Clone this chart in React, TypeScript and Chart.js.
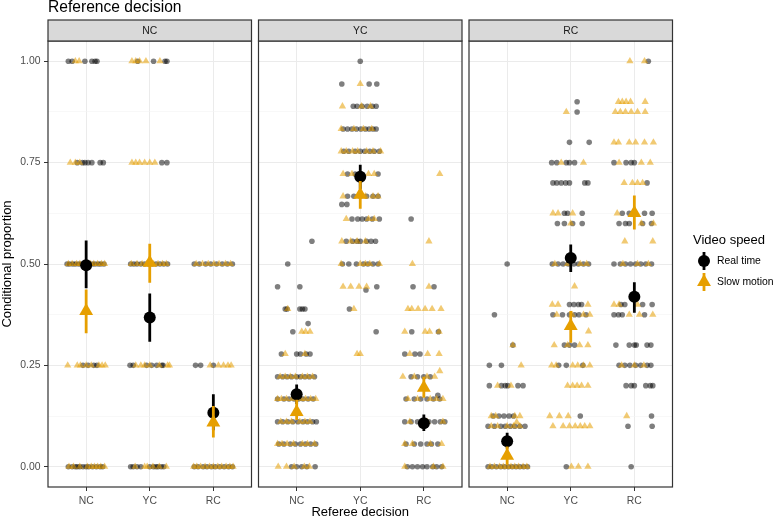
import React, { useEffect, useRef } from 'react';
import { Chart, registerables } from 'chart.js';

Chart.register(...registerables);

// ---------- data ----------
const categories = ['NC', 'YC', 'RC'];
const facetLabels = ['NC', 'YC', 'RC'];
const yMajorTicks = [0, 0.25, 0.5, 0.75, 1];
const yMinorTicks = [0.125, 0.375, 0.625, 0.875];
const seriesLabels = ['Real time', 'Slow motion'];

// jitter rows: [category position (1=NC, 2=YC, 3=RC), proportion, ...horizontal jitter offsets]
const ncFacetReal = [
  [1, 1.0, -0.28, -0.22, -0.02, 0.09, 0.14, 0.17],
  [1, 0.75, -0.14, -0.06, -0.02, 0.03, 0.09, 0.22, 0.27],
  [1, 0.5, -0.3, -0.26, -0.21, -0.17, -0.12, -0.08, -0.03, 0.01, 0.05, 0.1, 0.14, 0.19, 0.23, 0.28],
  [1, 0.25, -0.05, 0.03, 0.12, 0.17],
  [1, 0.0, -0.28, -0.22, -0.17, -0.14, -0.1, -0.05, 0.0, 0.04, 0.1, 0.16, 0.22, 0.26],
  [2, 1.0, -0.19, 0.06, 0.24, 0.27],
  [2, 0.75, 0.19, 0.27],
  [2, 0.5, -0.3, -0.25, -0.2, -0.14, -0.08, -0.02, 0.04, 0.1, 0.16, 0.22, 0.28],
  [2, 0.25, -0.31, -0.26, -0.05, 0.03, 0.11, 0.19, 0.21],
  [2, 0.0, -0.3, -0.26, -0.2, -0.14, 0.0, 0.06, 0.1, 0.13, 0.18, 0.22],
  [3, 0.5, -0.3, -0.22, -0.12, -0.04, 0.05, 0.14, 0.22, 0.3],
  [3, 0.25, -0.28, -0.2, 0.0],
  [3, 0.0, -0.3, -0.24, -0.16, -0.1, -0.03, 0.03, 0.1, 0.17, 0.24, 0.3],
];
const ncFacetSlow = [
  [1, 1.0, -0.17, -0.11],
  [1, 0.75, -0.25, -0.17, -0.1],
  [1, 0.5, -0.28, -0.22, -0.15, -0.1, -0.04, 0.02, 0.07, 0.12, 0.18, 0.24, 0.29],
  [1, 0.25, -0.29, -0.14, -0.09, 0.0, 0.08, 0.2, 0.25, 0.3],
  [1, 0.0, -0.27, -0.2, -0.1, 0.02, 0.08, 0.13, 0.18, 0.23, 0.29],
  [2, 1.0, -0.28, -0.22, -0.16, -0.06, 0.16],
  [2, 0.75, -0.28, -0.22, -0.16, -0.08, 0.0, 0.08],
  [2, 0.5, -0.29, -0.2, -0.12, -0.05, 0.01, 0.06, 0.13, 0.2, 0.26],
  [2, 0.25, -0.22, -0.14, -0.08, 0.0, 0.15, 0.28, 0.31],
  [2, 0.0, -0.23, -0.08, -0.04, 0.05, 0.15, 0.26],
  [3, 0.5, -0.27, -0.17, -0.08, 0.01, 0.09, 0.19, 0.27],
  [3, 0.25, -0.05, 0.08, 0.16, 0.23, 0.28],
  [3, 0.0, -0.31, -0.26, -0.2, -0.13, -0.06, 0.0, 0.07, 0.13, 0.2, 0.26, 0.31],
];

const ycFacetReal = [
  [1, 0.556, 0.24],
  [1, 0.5, -0.14],
  [1, 0.444, -0.3, 0.05],
  [1, 0.389, -0.18, -0.15, 0.05, 0.09, 0.13],
  [1, 0.353, 0.18],
  [1, 0.333, -0.06],
  [1, 0.278, -0.24, 0.0, 0.06, 0.15, 0.21],
  [1, 0.222, -0.3, -0.22, -0.15, -0.08, 0.0, 0.06, 0.13, 0.2, 0.28],
  [1, 0.167, -0.3, -0.2, -0.12, -0.04, 0.03, 0.1, 0.18, 0.26],
  [1, 0.111, -0.3, -0.22, -0.14, -0.06, 0.02, 0.1, 0.17, 0.25, 0.31],
  [1, 0.056, -0.28, -0.2, -0.1, -0.02, 0.06, 0.14, 0.22, 0.3],
  [1, 0.0, -0.08, 0.0, 0.08, 0.16, 0.29],
  [2, 1.0, 0.0],
  [2, 0.944, -0.29, 0.14, 0.26],
  [2, 0.889, -0.11, -0.05, 0.03, 0.11, 0.19, 0.25],
  [2, 0.833, -0.27, -0.2, -0.13, -0.06, 0.01, 0.08, 0.14, 0.2, 0.25],
  [2, 0.778, -0.26, -0.18, -0.08, 0.0, 0.07, 0.15, 0.22, 0.3],
  [2, 0.722, -0.2, -0.08, 0.0, 0.28],
  [2, 0.667, -0.2, -0.1, 0.0, 0.1, 0.2, 0.28],
  [2, 0.647, -0.29, -0.21],
  [2, 0.611, -0.13, -0.04, 0.03, 0.1, 0.19, 0.3],
  [2, 0.556, -0.22, -0.12, -0.05, 0.0, 0.1, 0.17, 0.24],
  [2, 0.5, -0.28, -0.18, -0.06, 0.05, 0.12, 0.2, 0.28],
  [2, 0.436, 0.09],
  [2, 0.444, 0.26],
  [2, 0.389, -0.17],
  [2, 0.333, 0.25],
  [3, 0.611, -0.2],
  [3, 0.444, -0.17, 0.16],
  [3, 0.333, -0.19, 0.23],
  [3, 0.278, -0.3, -0.14, -0.06],
  [3, 0.222, -0.2, -0.1, 0.0, 0.1],
  [3, 0.176, 0.22],
  [3, 0.167, -0.28, -0.15, -0.05, 0.05, 0.15, 0.25],
  [3, 0.111, -0.3, -0.2, -0.1, 0.0, 0.08, 0.17, 0.26, 0.33],
  [3, 0.056, -0.28, -0.15, -0.05, 0.05, 0.12, 0.22],
  [3, 0.0, -0.26, -0.18, -0.1, -0.02, 0.05, 0.14, 0.2, 0.28],
];
const ycFacetSlow = [
  [1, 0.389, -0.14],
  [1, 0.333, 0.08, 0.14, 0.21],
  [1, 0.278, -0.18, 0.13],
  [1, 0.222, -0.26, -0.18, -0.1, -0.02, 0.09, 0.17, 0.25],
  [1, 0.167, -0.3, -0.24, -0.16, -0.07, 0.07, 0.14, 0.22, 0.3],
  [1, 0.111, -0.25, -0.16, -0.08, 0.05, 0.13, 0.21],
  [1, 0.056, -0.3, -0.23, -0.15, -0.05, 0.09, 0.17, 0.28],
  [1, 0.0, -0.29, -0.16, -0.04, 0.12, 0.2],
  [2, 0.944, 0.0],
  [2, 0.889, -0.28, 0.02, 0.16],
  [2, 0.833, -0.3, -0.1, 0.05, 0.18],
  [2, 0.778, -0.3, -0.22, -0.12, -0.04, 0.1, 0.2, 0.32],
  [2, 0.722, -0.27, -0.13, 0.13, 0.22],
  [2, 0.667, -0.27, 0.08, 0.2, 0.28],
  [2, 0.611, -0.22, 0.13, 0.22],
  [2, 0.556, -0.29, -0.15, -0.05, 0.08],
  [2, 0.5, -0.3, 0.0, 0.08, 0.15, 0.3],
  [2, 0.444, -0.27, -0.15, -0.02, 0.1],
  [2, 0.389, -0.1],
  [2, 0.278, -0.05, 0.0],
  [3, 0.722, 0.25],
  [3, 0.556, 0.08],
  [3, 0.5, -0.18],
  [3, 0.444, 0.08],
  [3, 0.389, -0.25, -0.19, -0.09, 0.02, 0.13, 0.27],
  [3, 0.333, -0.3, 0.02, 0.09, 0.24],
  [3, 0.278, -0.22, 0.06, 0.24],
  [3, 0.236, 0.25],
  [3, 0.222, -0.33, -0.15, 0.05, 0.17],
  [3, 0.167, -0.25, -0.1, 0.1, 0.2, 0.3],
  [3, 0.111, -0.22, 0.05, 0.3],
  [3, 0.056, -0.3, -0.18, 0.1, 0.28],
  [3, 0.0, -0.3, 0.15, 0.3],
];

const rcFacetReal = [
  [1, 0.5, 0.0],
  [1, 0.375, -0.2],
  [1, 0.3, 0.09],
  [1, 0.25, -0.28, -0.09],
  [1, 0.2, -0.28, -0.09, -0.03, 0.01, 0.17, 0.25],
  [1, 0.125, -0.22, -0.13, -0.05, 0.03, 0.1],
  [1, 0.1, -0.3, -0.2, -0.1, -0.03, 0.05, 0.12, 0.2, 0.28],
  [1, 0.0, -0.3, -0.24, -0.17, -0.1, -0.04, 0.02, 0.08, 0.14, 0.2, 0.26, 0.32],
  [2, 0.9, 0.1],
  [2, 0.875, 0.1],
  [2, 0.8, -0.02, 0.29],
  [2, 0.75, -0.3, -0.22, -0.07, -0.02, 0.06],
  [2, 0.7, -0.28, -0.22, -0.15, -0.08, -0.02, 0.22, 0.27],
  [2, 0.625, -0.1, -0.05, 0.18],
  [2, 0.6, -0.21, -0.1, 0.03, 0.18],
  [2, 0.5, -0.29, -0.2, -0.12, -0.04, 0.05, 0.12, 0.2, 0.28],
  [2, 0.4, -0.02, 0.05, 0.12, 0.17],
  [2, 0.375, -0.28, -0.13, -0.02, 0.06, 0.13, 0.24],
  [2, 0.3, -0.1, -0.02, 0.06],
  [2, 0.25, -0.19, -0.07, 0.19],
  [2, 0.125, 0.15],
  [2, 0.0, -0.07],
  [3, 1.0, 0.22],
  [3, 0.75, -0.32, -0.13, -0.05, 0.0],
  [3, 0.7, 0.2],
  [3, 0.625, -0.19, -0.08, 0.16, 0.28],
  [3, 0.6, -0.24, -0.14, -0.08, 0.13, 0.27],
  [3, 0.5, -0.32, -0.22, -0.14, -0.06, 0.02, 0.1, 0.18, 0.27],
  [3, 0.4, -0.21, -0.15, 0.13, 0.28],
  [3, 0.375, -0.32, -0.25, -0.19, 0.16],
  [3, 0.3, -0.29, -0.08, 0.0, 0.03, 0.2, 0.26],
  [3, 0.25, -0.24, -0.15, -0.07, 0.02, 0.1, 0.2, 0.26],
  [3, 0.2, -0.13, -0.05, 0.0, 0.18, 0.25, 0.29],
  [3, 0.125, 0.27],
  [3, 0.1, -0.1, 0.28],
  [3, 0.0, -0.05],
];
const rcFacetSlow = [
  [1, 0.3, 0.09],
  [1, 0.25, 0.22],
  [1, 0.2, -0.15, 0.06],
  [1, 0.125, -0.25, -0.18, 0.12, 0.2],
  [1, 0.11, 0.15],
  [1, 0.1, -0.25, -0.15, 0.0, 0.1, 0.2],
  [1, 0.0, -0.27, -0.2, -0.12, -0.06, 0.0, 0.06, 0.12, 0.18, 0.25, 0.31],
  [2, 0.875, -0.07],
  [2, 0.75, -0.15, 0.2],
  [2, 0.625, -0.28, -0.2, 0.03],
  [2, 0.6, 0.0],
  [2, 0.5, -0.25, -0.05, 0.15, 0.25],
  [2, 0.445, 0.06],
  [2, 0.4, -0.29, -0.2, 0.27],
  [2, 0.375, -0.22, 0.02, 0.2, 0.3],
  [2, 0.334, 0.28],
  [2, 0.3, -0.26, -0.05, 0.14, 0.27],
  [2, 0.25, -0.3, -0.23, 0.03, 0.11, 0.2, 0.3],
  [2, 0.2, -0.05, 0.03, 0.1, 0.17, 0.27],
  [2, 0.125, -0.33, -0.18, -0.04],
  [2, 0.1, -0.28, -0.12, -0.02, 0.07, 0.15, 0.22, 0.3],
  [2, 0.0, 0.01, 0.12, 0.27],
  [3, 1.0, -0.07, 0.16],
  [3, 0.9, -0.25, -0.19, -0.13, -0.06, 0.17],
  [3, 0.875, -0.3, -0.22, -0.14, -0.05, 0.05, 0.17],
  [3, 0.8, -0.32, -0.25, -0.08, 0.02, 0.16, 0.3],
  [3, 0.75, -0.24, 0.11, 0.25],
  [3, 0.7, -0.16, -0.03, 0.05, 0.13],
  [3, 0.625, -0.27, 0.0],
  [3, 0.6, 0.11, 0.3],
  [3, 0.556, -0.15, 0.29],
  [3, 0.5, -0.18, 0.05, 0.22],
  [3, 0.4, -0.32, -0.24, 0.05],
  [3, 0.375, -0.08, 0.08, 0.29],
  [3, 0.25, -0.2, 0.0, 0.15],
  [3, 0.125, -0.12],
];

// means and intervals, by referee decision (NC, YC, RC)
const ncFacetRealMean = [0.497, 0.368, 0.133];
const ncFacetRealLow = [0.44, 0.308, 0.09];
const ncFacetRealHigh = [0.558, 0.427, 0.179];
const ncFacetSlowMean = [0.384, 0.503, 0.109];
const ncFacetSlowLow = [0.329, 0.454, 0.072];
const ncFacetSlowHigh = [0.437, 0.55, 0.15];

const ycFacetRealMean = [0.179, 0.715, 0.107];
const ycFacetRealLow = [0.155, 0.685, 0.088];
const ycFacetRealHigh = [0.203, 0.745, 0.129];
const ycFacetSlowMean = [0.135, 0.671, 0.195];
const ycFacetSlowLow = [0.115, 0.636, 0.17];
const ycFacetSlowHigh = [0.165, 0.705, 0.222];

const rcFacetRealMean = [0.063, 0.515, 0.419];
const rcFacetRealLow = [0.045, 0.48, 0.38];
const rcFacetRealHigh = [0.084, 0.548, 0.455];
const rcFacetSlowMean = [0.027, 0.347, 0.626];
const rcFacetSlowLow = [0.005, 0.306, 0.585];
const rcFacetSlowHigh = [0.05, 0.384, 0.669];

// ---------- layout / style ----------
const W = 776;
const H = 521;
const FONT = '"Liberation Sans", Arial, Helvetica, sans-serif';
const panelLeft = [48, 258.5, 469];
const panelRight = [251.5, 462, 672.5];
const PLOT_TOP = 41;
const PLOT_BOTTOM = 487;
const STRIP_TOP = 20;
const BLACK = '#000000';
const ORANGE = '#E69F00';

const facets = [
  { real: ncFacetReal, slow: ncFacetSlow, rm: ncFacetRealMean, rl: ncFacetRealLow, rh: ncFacetRealHigh, sm: ncFacetSlowMean, sl: ncFacetSlowLow, sh: ncFacetSlowHigh },
  { real: ycFacetReal, slow: ycFacetSlow, rm: ycFacetRealMean, rl: ycFacetRealLow, rh: ycFacetRealHigh, sm: ycFacetSlowMean, sl: ycFacetSlowLow, sh: ycFacetSlowHigh },
  { real: rcFacetReal, slow: rcFacetSlow, rm: rcFacetRealMean, rl: rcFacetRealLow, rh: rcFacetRealHigh, sm: rcFacetSlowMean, sl: rcFacetSlowLow, sh: rcFacetSlowHigh },
];

function expand(rows: number[][]) {
  const pts: { x: number; y: number }[] = [];
  for (const r of rows) {
    const [c, y, ...offs] = r;
    for (const o of offs) pts.push({ x: c + o, y });
  }
  return pts;
}
function barPoints(lo: number[], hi: number[]) {
  const pts: { x: number; y: number | null }[] = [];
  lo.forEach((l, i) => {
    pts.push({ x: i + 1, y: l }, { x: i + 1, y: hi[i] }, { x: i + 1, y: null });
  });
  return pts;
}
function meanPoints(m: number[]) {
  return m.map((v, i) => ({ x: i + 1, y: v }));
}
const isMajor = (v: number) => yMajorTicks.some((t) => Math.abs(t - v) < 1e-6);

function drawTriangle(ctx: CanvasRenderingContext2D, x: number, y: number, r: number) {
  ctx.beginPath();
  for (let k = 0; k < 3; k++) {
    const a = (k * 2 * Math.PI) / 3;
    const px = x + Math.sin(a) * r;
    const py = y - Math.cos(a) * r;
    if (k === 0) ctx.moveTo(px, py);
    else ctx.lineTo(px, py);
  }
  ctx.closePath();
  ctx.fill();
}

function panelPlugin(idx: number) {
  return {
    id: 'panelDeco' + idx,
    afterDraw(chart: any) {
      const { ctx, chartArea: a } = chart;
      ctx.save();
      // panel border
      ctx.strokeStyle = '#333333';
      ctx.lineWidth = 1.2;
      ctx.strokeRect(a.left, a.top, a.right - a.left, a.bottom - a.top);
      // strip
      ctx.fillStyle = '#d9d9d9';
      ctx.fillRect(a.left, STRIP_TOP, a.right - a.left, a.top - STRIP_TOP);
      ctx.strokeRect(a.left, STRIP_TOP, a.right - a.left, a.top - STRIP_TOP);
      ctx.fillStyle = '#1a1a1a';
      ctx.font = `10.4px ${FONT}`;
      ctx.textAlign = 'center';
      ctx.textBaseline = 'middle';
      ctx.fillText(facetLabels[idx], (a.left + a.right) / 2, (STRIP_TOP + a.top) / 2 + 0.5);

      if (idx === 0) {
        ctx.fillStyle = '#000';
        ctx.font = `15.6px ${FONT}`;
        ctx.textAlign = 'left';
        ctx.textBaseline = 'alphabetic';
        ctx.fillText('Reference decision', 48, 12);
        ctx.save();
        ctx.translate(7, (PLOT_TOP + PLOT_BOTTOM) / 2);
        ctx.rotate(-Math.PI / 2);
        ctx.font = `13px ${FONT}`;
        ctx.textAlign = 'center';
        ctx.textBaseline = 'middle';
        ctx.fillText('Conditional proportion', 0, 0);
        ctx.restore();
      }
      if (idx === 1) {
        ctx.fillStyle = '#000';
        ctx.font = `13px ${FONT}`;
        ctx.textAlign = 'center';
        ctx.textBaseline = 'middle';
        ctx.fillText('Referee decision', (panelLeft[0] + panelRight[2]) / 2, 512);
      }
      if (idx === 2) {
        ctx.fillStyle = '#000';
        ctx.font = `13px ${FONT}`;
        ctx.textAlign = 'left';
        ctx.textBaseline = 'middle';
        ctx.fillText('Video speed', 693, 240);
        // Real time key
        ctx.strokeStyle = BLACK;
        ctx.lineWidth = 2.8;
        ctx.beginPath();
        ctx.moveTo(704, 252);
        ctx.lineTo(704, 270);
        ctx.stroke();
        ctx.fillStyle = BLACK;
        ctx.beginPath();
        ctx.arc(704, 261, 6, 0, Math.PI * 2);
        ctx.fill();
        // Slow motion key
        ctx.strokeStyle = ORANGE;
        ctx.beginPath();
        ctx.moveTo(704, 273);
        ctx.lineTo(704, 291);
        ctx.stroke();
        ctx.fillStyle = ORANGE;
        drawTriangle(ctx, 704, 282, 8);
        ctx.fillStyle = '#000';
        ctx.font = `10.4px ${FONT}`;
        ctx.fillText(seriesLabels[0], 717, 261);
        ctx.fillText(seriesLabels[1], 717, 282);
      }
      ctx.restore();
    },
  };
}

function makeConfig(idx: number): any {
  const f = facets[idx];
  const tickFont = { family: FONT, size: 10.4 };
  return {
    type: 'scatter',
    data: {
      datasets: [
        {
          label: 'Real jitter',
          data: expand(f.real),
          pointStyle: 'circle',
          pointRadius: 2.8,
          pointBackgroundColor: 'rgba(0,0,0,0.5)',
          pointBorderWidth: 0,
          order: 6,
        },
        {
          label: 'Slow jitter',
          data: expand(f.slow),
          pointStyle: 'triangle',
          pointRadius: 4.2,
          pointBackgroundColor: 'rgba(230,159,0,0.55)',
          pointBorderWidth: 0,
          order: 5,
        },
        {
          label: 'Real interval',
          data: barPoints(f.rl, f.rh),
          showLine: true,
          spanGaps: false,
          borderColor: BLACK,
          borderWidth: 2.8,
          borderCapStyle: 'butt',
          pointRadius: 0,
          order: 4,
        },
        {
          label: 'Real mean',
          data: meanPoints(f.rm),
          pointStyle: 'circle',
          pointRadius: 6,
          pointBackgroundColor: BLACK,
          pointBorderWidth: 0,
          order: 3,
        },
        {
          label: 'Slow interval',
          data: barPoints(f.sl, f.sh),
          showLine: true,
          spanGaps: false,
          borderColor: ORANGE,
          borderWidth: 2.8,
          borderCapStyle: 'butt',
          pointRadius: 0,
          order: 2,
        },
        {
          label: 'Slow mean',
          data: meanPoints(f.sm),
          pointStyle: 'triangle',
          pointRadius: 8,
          pointBackgroundColor: ORANGE,
          pointBorderWidth: 0,
          order: 1,
        },
      ],
    },
    options: {
      animation: false,
      responsive: false,
      maintainAspectRatio: false,
      events: [],
      layout: {
        padding: {
          left: idx === 0 ? 0 : panelLeft[idx],
          right: W - panelRight[idx],
          top: PLOT_TOP,
          bottom: 0,
        },
      },
      plugins: {
        legend: { display: false },
        tooltip: { enabled: false },
        title: { display: false },
      },
      scales: {
        x: {
          type: 'linear',
          min: 0.4,
          max: 3.6,
          afterBuildTicks: (s: any) => {
            s.ticks = [1, 2, 3].map((v) => ({ value: v }));
          },
          afterFit: (s: any) => {
            s.height = H - PLOT_BOTTOM;
          },
          ticks: {
            callback: (v: number) => categories[Math.round(v) - 1],
            font: tickFont,
            color: '#4d4d4d',
            padding: 3.5,
            maxRotation: 0,
            autoSkip: false,
          },
          grid: {
            color: '#ebebeb',
            lineWidth: 1,
            tickLength: 4,
            tickColor: '#333333',
            tickWidth: 1,
          },
          border: { display: false },
        },
        y: {
          type: 'linear',
          min: -0.05,
          max: 1.05,
          afterBuildTicks: (s: any) => {
            s.ticks = [...yMajorTicks, ...yMinorTicks].sort((a, b) => a - b).map((v) => ({ value: v }));
          },
          afterFit: (s: any) => {
            s.width = idx === 0 ? panelLeft[0] : 0;
          },
          ticks: {
            display: idx === 0,
            callback: (v: number) => (isMajor(v) ? v.toFixed(2) : ''),
            font: tickFont,
            color: '#4d4d4d',
            padding: 3.5,
          },
          grid: {
            color: (c: any) => (isMajor(c.tick.value) ? '#ebebeb' : '#f3f3f3'),
            lineWidth: (c: any) => (isMajor(c.tick.value) ? 1 : 0.6),
            drawTicks: idx === 0,
            tickLength: 4,
            tickColor: (c: any) => (isMajor(c.tick.value) ? '#333333' : 'rgba(0,0,0,0)'),
            tickWidth: 1,
          },
          border: { display: false },
        },
      },
    },
    plugins: [panelPlugin(idx)],
  };
}

export default function App() {
  const r0 = useRef<HTMLCanvasElement>(null);
  const r1 = useRef<HTMLCanvasElement>(null);
  const r2 = useRef<HTMLCanvasElement>(null);
  const refs = [r0, r1, r2];

  useEffect(() => {
    const charts = refs.map((r, i) => new Chart(r.current as HTMLCanvasElement, makeConfig(i)));
    return () => charts.forEach((c) => c.destroy());
  }, []);

  return (
    <div style={{ position: 'fixed', left: 0, top: 0, width: W, height: H, background: '#ffffff' }}>
      {refs.map((r, i) => (
        <canvas
          key={i}
          ref={r}
          width={W}
          height={H}
          style={{ position: 'absolute', left: 0, top: 0, width: W, height: H }}
        />
      ))}
    </div>
  );
}
